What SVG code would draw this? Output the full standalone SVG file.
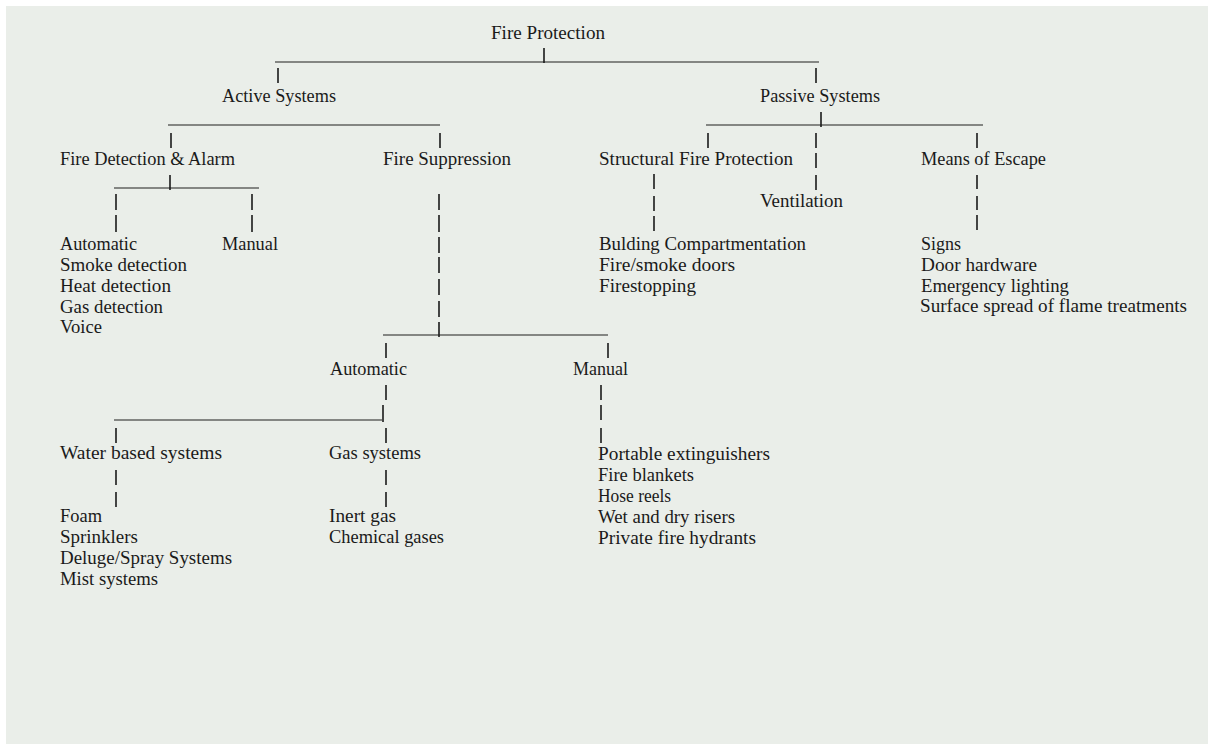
<svg xmlns="http://www.w3.org/2000/svg" width="1208" height="744" viewBox="0 0 1208 744">
<style>
text{font-family:"Liberation Serif","Times New Roman",serif;font-size:18.5px;fill:#1a1a1a;}
.h{stroke:#1e1e1e;stroke-width:1.2;fill:none;}
.v{stroke:#1a1a1a;stroke-width:1.6;fill:none;}
</style>
<rect x="0" y="0" width="1208" height="744" fill="#ffffff"/>
<rect x="6" y="6" width="1202" height="738" fill="#eaeee9"/>
<g id="connectors">
  <line class="h" x1="275" y1="62" x2="819" y2="62"/>
  <line class="v" x1="544" y1="48" x2="544" y2="63"/>
  <line class="v" x1="278" y1="68" x2="278" y2="83"/>
  <line class="v" x1="816" y1="68" x2="816" y2="83"/>
  <line class="h" x1="168" y1="125" x2="440" y2="125"/>
  <line class="h" x1="706" y1="125" x2="983" y2="125"/>
  <line class="v" x1="821" y1="112" x2="821" y2="127"/>
  <line class="v" x1="171" y1="133" x2="171" y2="148"/>
  <line class="v" x1="440" y1="133" x2="440" y2="148"/>
  <line class="v" x1="708" y1="133" x2="708" y2="148"/>
  <line class="v" x1="816" y1="133" x2="816" y2="148"/>
  <line class="v" x1="977" y1="133" x2="977" y2="148"/>
  <line class="v" x1="816" y1="153" x2="816" y2="168"/>
  <line class="v" x1="816" y1="175" x2="816" y2="190"/>
  <line class="v" x1="977" y1="175" x2="977" y2="189"/>
  <line class="v" x1="977" y1="196" x2="977" y2="210"/>
  <line class="v" x1="977" y1="215" x2="977" y2="230"/>
  <line class="v" x1="654" y1="174" x2="654" y2="189"/>
  <line class="v" x1="654" y1="196" x2="654" y2="211"/>
  <line class="v" x1="654" y1="216" x2="654" y2="231"/>
  <line class="h" x1="114" y1="188" x2="259" y2="188"/>
  <line class="v" x1="170" y1="175" x2="170" y2="190"/>
  <line class="v" x1="116" y1="194" x2="116" y2="210"/>
  <line class="v" x1="252" y1="194" x2="252" y2="210"/>
  <line class="v" x1="116" y1="215" x2="116" y2="232"/>
  <line class="v" x1="252" y1="215" x2="252" y2="232"/>
  <line class="v" x1="439" y1="194" x2="439" y2="210"/>
  <line class="v" x1="439" y1="215" x2="439" y2="232"/>
  <line class="v" x1="439" y1="237" x2="439" y2="253"/>
  <line class="v" x1="439" y1="257" x2="439" y2="273"/>
  <line class="v" x1="439" y1="279" x2="439" y2="295"/>
  <line class="v" x1="439" y1="301" x2="439" y2="317"/>
  <line class="v" x1="439" y1="322" x2="439" y2="337"/>
  <line class="h" x1="383" y1="335" x2="608" y2="335"/>
  <line class="v" x1="386" y1="343" x2="386" y2="358"/>
  <line class="v" x1="608" y1="343" x2="608" y2="358"/>
  <line class="v" x1="386" y1="385" x2="386" y2="400"/>
  <line class="h" x1="114" y1="420" x2="382" y2="420"/>
  <line class="v" x1="383" y1="405" x2="383" y2="422"/>
  <line class="v" x1="116" y1="428" x2="116" y2="443"/>
  <line class="v" x1="386" y1="428" x2="386" y2="443"/>
  <line class="v" x1="116" y1="470" x2="116" y2="485"/>
  <line class="v" x1="386" y1="470" x2="386" y2="485"/>
  <line class="v" x1="116" y1="492" x2="116" y2="507"/>
  <line class="v" x1="386" y1="492" x2="386" y2="507"/>
  <line class="v" x1="601" y1="385" x2="601" y2="400"/>
  <line class="v" x1="601" y1="405" x2="601" y2="420"/>
  <line class="v" x1="601" y1="428" x2="601" y2="443"/>
</g>
<g id="fire-protection"><text x="491" y="39" textLength="114" lengthAdjust="spacingAndGlyphs">Fire Protection</text></g>
<g id="active-systems"><text x="222" y="102" textLength="114" lengthAdjust="spacingAndGlyphs">Active Systems</text></g>
<g id="passive-systems"><text x="760" y="102" textLength="120" lengthAdjust="spacingAndGlyphs">Passive Systems</text></g>
<g id="fire-detection"><text x="60" y="165" textLength="175" lengthAdjust="spacingAndGlyphs">Fire Detection &amp; Alarm</text></g>
<g id="fire-suppression"><text x="383" y="165" textLength="128" lengthAdjust="spacingAndGlyphs">Fire Suppression</text></g>
<g id="structural"><text x="599" y="165" textLength="194" lengthAdjust="spacingAndGlyphs">Structural Fire Protection</text></g>
<g id="means-of-escape"><text x="921" y="165" textLength="125" lengthAdjust="spacingAndGlyphs">Means of Escape</text></g>
<g id="ventilation"><text x="760" y="207" textLength="83" lengthAdjust="spacingAndGlyphs">Ventilation</text></g>
<g id="fd-automatic">
  <text x="60" y="250" textLength="77" lengthAdjust="spacingAndGlyphs">Automatic</text>
  <text x="60" y="271" textLength="127" lengthAdjust="spacingAndGlyphs">Smoke detection</text>
  <text x="60" y="292" textLength="111" lengthAdjust="spacingAndGlyphs">Heat detection</text>
  <text x="60" y="313" textLength="103" lengthAdjust="spacingAndGlyphs">Gas detection</text>
  <text x="60" y="333" textLength="42" lengthAdjust="spacingAndGlyphs">Voice</text>
</g>
<g id="fd-manual"><text x="222" y="250" textLength="56" lengthAdjust="spacingAndGlyphs">Manual</text></g>
<g id="structural-items">
  <text x="599" y="250" textLength="207" lengthAdjust="spacingAndGlyphs">Bulding Compartmentation</text>
  <text x="599" y="271" textLength="136" lengthAdjust="spacingAndGlyphs">Fire/smoke doors</text>
  <text x="599" y="292" textLength="97" lengthAdjust="spacingAndGlyphs">Firestopping</text>
</g>
<g id="escape-items">
  <text x="921" y="250" textLength="40" lengthAdjust="spacingAndGlyphs">Signs</text>
  <text x="921" y="271" textLength="116" lengthAdjust="spacingAndGlyphs">Door hardware</text>
  <text x="921" y="292" textLength="148" lengthAdjust="spacingAndGlyphs">Emergency lighting</text>
  <text x="920" y="312" textLength="267" lengthAdjust="spacingAndGlyphs">Surface spread of flame treatments</text>
</g>
<g id="fs-automatic"><text x="330" y="375" textLength="77" lengthAdjust="spacingAndGlyphs">Automatic</text></g>
<g id="fs-manual"><text x="573" y="375" textLength="55" lengthAdjust="spacingAndGlyphs">Manual</text></g>
<g id="water-based"><text x="60" y="459" textLength="162" lengthAdjust="spacingAndGlyphs">Water based systems</text></g>
<g id="gas-systems"><text x="329" y="459" textLength="92" lengthAdjust="spacingAndGlyphs">Gas systems</text></g>
<g id="manual-items">
  <text x="598" y="460" textLength="172" lengthAdjust="spacingAndGlyphs">Portable extinguishers</text>
  <text x="598" y="481" textLength="96" lengthAdjust="spacingAndGlyphs">Fire blankets</text>
  <text x="598" y="502" textLength="73" lengthAdjust="spacingAndGlyphs">Hose reels</text>
  <text x="598" y="523" textLength="137" lengthAdjust="spacingAndGlyphs">Wet and dry risers</text>
  <text x="598" y="544" textLength="158" lengthAdjust="spacingAndGlyphs">Private fire hydrants</text>
</g>
<g id="water-items">
  <text x="60" y="522" textLength="42" lengthAdjust="spacingAndGlyphs">Foam</text>
  <text x="60" y="543" textLength="78" lengthAdjust="spacingAndGlyphs">Sprinklers</text>
  <text x="60" y="564" textLength="172" lengthAdjust="spacingAndGlyphs">Deluge/Spray Systems</text>
  <text x="60" y="585" textLength="98" lengthAdjust="spacingAndGlyphs">Mist systems</text>
</g>
<g id="gas-items">
  <text x="329" y="522" textLength="67" lengthAdjust="spacingAndGlyphs">Inert gas</text>
  <text x="329" y="543" textLength="115" lengthAdjust="spacingAndGlyphs">Chemical gases</text>
</g>
</svg>
